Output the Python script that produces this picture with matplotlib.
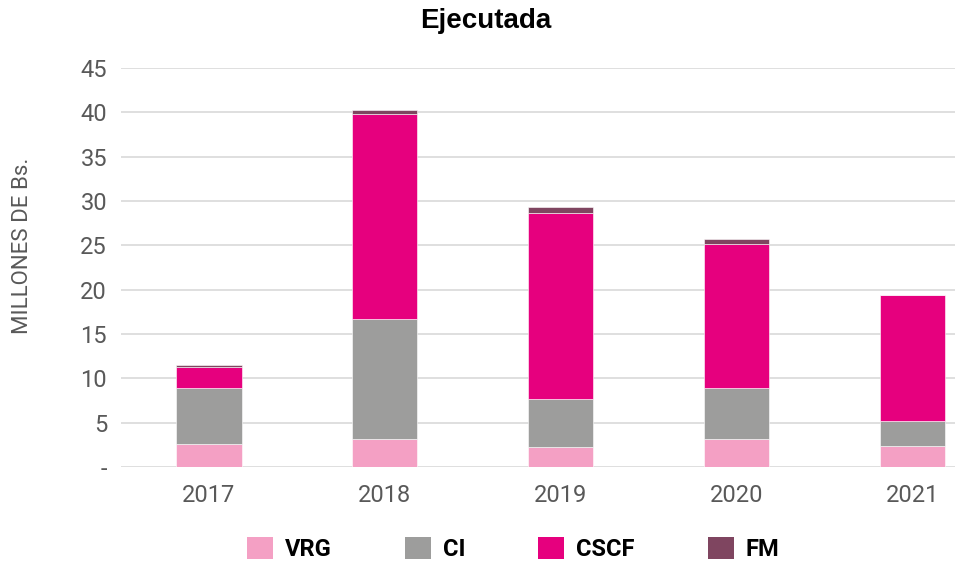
import matplotlib
matplotlib.use("Agg")
import matplotlib.pyplot as plt
import numpy as np
from matplotlib.patches import Patch
from matplotlib import font_manager

years = ["2017", "2018", "2019", "2020", "2021"]
vrg = [2.60, 3.12, 2.22, 3.12, 2.37]
ci = [6.34, 13.58, 5.41, 5.75, 2.82]
cscf = [2.39, 23.06, 21.07, 16.33, 14.21]
fm = [0.17, 0.49, 0.63, 0.56, 0.05]
series = [("VRG", vrg, "#f4a0c4"), ("CI", ci, "#9d9d9c"),
          ("CSCF", cscf, "#e6007e"), ("FM", fm, "#7f4560")]
yticks = [0, 5, 10, 15, 20, 25, 30, 35, 40, 45]
ytick_labels = ["-", "5", "10", "15", "20", "25", "30", "35", "40", "45"]

names = {f.name for f in font_manager.fontManager.ttflist}
narrow = "Liberation Sans Narrow" if "Liberation Sans Narrow" in names else "Roboto"

fig = plt.figure(figsize=(9.56, 5.64), dpi=100)
ax = fig.add_axes([121/956, 97/564, (955-121)/956, (467-68)/564])

x = np.arange(len(years))
bottom = np.zeros(len(years))
for name, vals, col in series:
    ax.bar(x, vals, width=0.37, bottom=bottom, color=col, label=name,
           edgecolor="white", linewidth=0.4, zorder=3)
    bottom += np.array(vals)

ax.set_xlim(-0.5, 4.24)
ax.set_ylim(0, 45)
ax.set_yticks(yticks)
ax.set_yticklabels(ytick_labels, fontsize=17, color="#595959", family=narrow)
ax.set_xticks(x)
ax.set_xticklabels(years, fontsize=17, color="#595959", family=narrow)
ax.tick_params(axis="both", length=0, pad=10)
ax.tick_params(axis="x", pad=12)
ax.yaxis.grid(True, color="#d9d9d9", linewidth=1.2, zorder=0)
for s in ax.spines.values():
    s.set_visible(False)
ax.set_ylabel("MILLONES DE Bs.", fontsize=16, color="#595959", family=narrow)
ax.yaxis.set_label_coords(-0.106, 0.555)

fig.text(0.508, 0.962, "Ejecutada", ha="center", va="center", fontsize=20,
         fontweight="bold", family="Liberation Sans", color="black")

handles = [Patch(facecolor=c, label=n) for n, _, c in series]
leg = fig.legend(handles=handles, loc="center", bbox_to_anchor=(0.537, 0.027), ncol=4,
                 frameon=False, handlelength=1.1, handleheight=1.1, handletextpad=0.5,
                 columnspacing=3.1, prop={"family": narrow, "weight": "bold", "size": 17})

fig.savefig("out.png", dpi=100)
